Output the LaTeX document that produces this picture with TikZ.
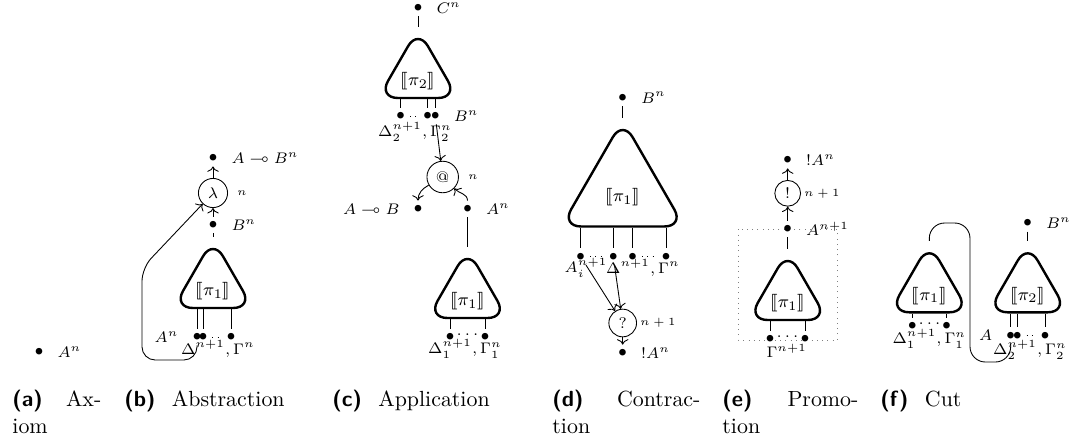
\documentclass[tikz,border=0pt]{standalone}
\usepackage{amssymb}
\usepackage{stmaryrd}
\usetikzlibrary{shapes.geometric}
\usetikzlibrary{arrows.meta, positioning}

\newcommand{\den}[1]{\llbracket #1\rrbracket}
\newcommand{\sublabel}[1]{\textsf{\textbf{#1}}}

\begin{document}
\begin{tikzpicture}[
    x=0.4566pt, y=-0.4566pt,
    proof/.style={draw, line width=1.1pt, regular polygon, regular polygon sides=3,
        rounded corners=9pt, inner sep=0pt, minimum size=42pt},
    bigproof/.style={proof, minimum size=64.8pt},
    port/.style={font=\scriptsize, inner sep=2pt},
    rulenode/.style={draw, circle, font=\scriptsize, inner sep=2.3pt},
    ctx/.style={font=\scriptsize, inner sep=1pt},
    denot/.style={font=\footnotesize, yshift=-3pt},
    level/.style={font=\tiny},
    explevel/.style={font=\tiny, xshift=-2.8pt},
    boxline/.style={draw=gray, dotted},
    captext/.style={anchor=north west, align=left, inner sep=0pt},
    every label/.style={font=\scriptsize, inner sep=1pt},
    label distance=3pt]
    \useasboundingbox (0,0) rectangle (1070,443);

    % (a)
    \node[port, label=right:$A^n$] (ax) at (39,352) {$\bullet$};

    % (b)
    \node[port, label=right:$A\multimap B^n$] (b-out) at (213,158) {$\bullet$};
    \node[rulenode, label={[level]right:$n$}] (lam) at (213,193) {$\lambda$};
    \node[port, label=right:$B^n$] (b-in) at (213,225) {$\bullet$};
    \node[proof, label={[denot]center:$\den{\pi_1}$}] (b-pi) at (213,285) {};
    \node[port, label=left:$A^n$] (b-a) at (197,337) {$\bullet$};
    \node[port] (b-d) at (203,337) {$\bullet$};
    \node[port] (b-g) at (231,337) {$\bullet$};
    \node[ctx] (b-ctx) at (218,349) {$\Delta^{n+1},\Gamma^n$};
    \draw[->] (lam) -- (b-out);
    \draw[->] (b-in) -- (lam);
    \draw (b-in) -- (b-pi.corner 1);
    \foreach \p in {b-a,b-d,b-g}
        \draw (\p |- b-pi.south) -- (\p);
    \draw[dotted] (b-d) -- (b-g);
    \draw[->, rounded corners=6pt] (b-a) -- (197,360) -- (142,360) -- (142,268) -- (lam);

    % (c)
    \node[port, label=right:$C^n$] (c-out) at (418,8) {$\bullet$};
    \node[proof, label={[denot]center:$\den{\pi_2}$}] (c-pi2) at (418,75) {};
    \draw (c-out) -- (c-pi2.corner 1);
    \node[port] (c-d) at (400.7,116) {$\bullet$};
    \node[port] (c-g) at (427.7,116) {$\bullet$};
    \node[port, label=right:$B^n$] (c-b) at (435.3,116) {$\bullet$};
    \foreach \p in {c-d,c-g,c-b}
        \draw (\p |- c-pi2.south) -- (\p);
    \draw[dotted] (c-d) -- (c-g);
    \node[ctx] (c-ctx2) at (415,132) {$\Delta_2^{n+1},\Gamma_2^n$};
    \node[rulenode, label={[level]right:$n$}] (app) at (442.7,177) {@};
    \draw[->] (c-b) -- (app);
    \node[port, label=left:$A\multimap B$] (c-ab) at (418,209) {$\bullet$};
    \node[port, label=right:$A^n$] (c-a) at (467.5,209) {$\bullet$};
    \draw[->] (app) to[out=-150, in=90] (c-ab);
    \draw[->] (c-a) to[out=90, in=-45] (app);
    \node[proof, label={[denot]center:$\den{\pi_1}$}] (c-pi1) at (467.5,295) {};
    \draw (c-a) -- (c-pi1.corner 1);
    \node[port] (c-d1) at (450,337) {$\bullet$};
    \node[port] (c-g1) at (485,337) {$\bullet$};
    \foreach \p in {c-d1,c-g1}
        \draw (\p |- c-pi1.south) -- (\p);
    \node[ctx] (c-dots1) at (467.5,335) {$\cdots$};
    \node[ctx] (c-ctx1) at (465,349) {$\Delta_1^{n+1},\Gamma_1^n$};

    % (d)
    \node[port, label=right:$B^n$] (d-out) at (622.7,97.7) {$\bullet$};
    \node[bigproof, label={[denot]center:$\den{\pi_1}$}] (d-pi) at (622.7,191) {};
    \draw (d-out) -- (d-pi.corner 1);
    \node[port] (d-a1) at (580.7,256.7) {$\bullet$};
    \node[port] (d-a2) at (613.3,256.7) {$\bullet$};
    \node[port] (d-d) at (632.7,256.7) {$\bullet$};
    \node[port] (d-g) at (666,256.7) {$\bullet$};
    \foreach \p in {d-a1,d-a2,d-d,d-g}
        \draw (\p |- d-pi.south) -- (\p);
    \draw[dotted] (d-a1) -- (d-a2);
    \draw[dotted] (d-d) -- (d-g);
    \node[ctx] (d-ctxa) at (586,268) {$A_i^{n+1}$};
    \node[ctx] (d-ctx) at (643,268) {$\Delta^{n+1},\Gamma^n$};
    \node[rulenode, label={[explevel]right:$n+1$}] (why) at (622.7,323) {?};
    \draw[->] (d-a1) -- (why);
    \draw[->] (d-a2) -- (why);
    \node[port, label=right:$!A^n$] (d-in) at (622.7,353) {$\bullet$};
    \draw[->] (why) -- (d-in);

    % (e)
    \draw[boxline] (738.3,229.3) rectangle (837.3,340);
    \node[port, label=right:$!A^n$] (e-out) at (787.7,160) {$\bullet$};
    \node[rulenode, label={[explevel]right:$n+1$}] (bang) at (787.7,193.3) {!};
    \node[port, label=right:$A^{n+1}$] (e-in) at (787.7,229) {$\bullet$};
    \draw[->] (bang) -- (e-out);
    \draw[->] (e-in) -- (bang);
    \node[proof, label={[denot]center:$\den{\pi_1}$}] (e-pi) at (787.7,297) {};
    \draw (e-in) -- (e-pi.corner 1);
    \node[port] (e-g1) at (770,339) {$\bullet$};
    \node[port] (e-g2) at (805,339) {$\bullet$};
    \foreach \p in {e-g1,e-g2}
        \draw (\p |- e-pi.south) -- (\p);
    \node[ctx] (e-dots) at (787.5,337) {$\cdots$};
    \node[ctx] (e-ctx) at (786.7,351) {$\Gamma^{n+1}$};

    % (f)
    \node[proof, label={[denot]center:$\den{\pi_1}$}] (f-pi1) at (929.3,289.3) {};
    \node[port] (f-d1) at (912.3,326) {$\bullet$};
    \node[port] (f-g1) at (946.7,326) {$\bullet$};
    \foreach \p in {f-d1,f-g1}
        \draw (\p |- f-pi1.south) -- (\p);
    \node[ctx] (f-dots) at (929.5,324) {$\cdots$};
    \node[ctx] (f-ctx1) at (929.3,339) {$\Delta_1^{n+1},\Gamma_1^n$};
    \node[port, label=right:$B^n$] (f-out) at (1027.7,223.3) {$\bullet$};
    \node[proof, label={[denot]center:$\den{\pi_2}$}] (f-pi2) at (1027.7,289.3) {};
    \draw (f-out) -- (f-pi2.corner 1);
    \node[port, label=left:$A$] (f-a) at (1010.7,335.7) {$\bullet$};
    \node[port] (f-d2) at (1017.3,335.7) {$\bullet$};
    \node[port] (f-g2) at (1045,335.7) {$\bullet$};
    \foreach \p in {f-a,f-d2,f-g2}
        \draw (\p |- f-pi2.south) -- (\p);
    \draw[dotted] (f-d2) -- (f-g2);
    \node[ctx] (f-ctx2) at (1030,350) {$\Delta_2^{n+1},\Gamma_2^n$};
    \draw[rounded corners=7pt] (f-pi1.corner 1) -- (929.3,223) -- (970,223) -- (970,362) -- (1010.7,362) -- (f-a);

    % captions
    \node[captext, text width=40.6pt] (cap-a) at (12,390) {\sublabel{(a)}\hfill Ax-\\iom};
    \node[captext] (cap-b) at (124,390) {\sublabel{(b)}\hskip 0.75em Abstraction};
    \node[captext] (cap-c) at (332,390) {\sublabel{(c)}\hskip 0.75em Application};
    \node[captext, text width=67.6pt] (cap-d) at (552,390) {\sublabel{(d)}\hfill Contrac-\\tion};
    \node[captext, text width=62.1pt] (cap-e) at (722,390) {\sublabel{(e)}\hfill Promo-\\tion};
    \node[captext] (cap-f) at (880,390) {\sublabel{(f)}\hskip 0.75em Cut};
\end{tikzpicture}
\end{document}
